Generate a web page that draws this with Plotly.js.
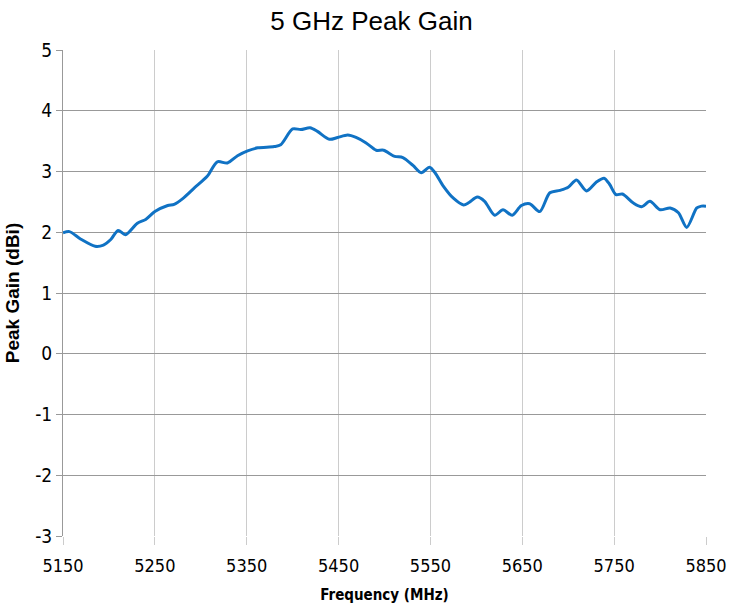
<!DOCTYPE html>
<html>
<head>
<meta charset="utf-8">
<script src="https://cdn.plot.ly/plotly-3.0.1.min.js"></script>
<style>html,body{margin:0;padding:0;background:#fff;}#chart{width:743px;height:610px;}</style>
</head>
<body>
<div id="chart"></div>
<script>
const freqMHz = [5150,5157,5169,5185,5194,5202,5210,5218,5231,5240,5250,5264,5271,5280,5293,5307,5318,5329,5340,5351,5362,5380,5387,5400,5409,5419,5427,5440,5449,5460,5469,5480,5491,5499,5511,5520,5531,5540,5549,5555,5564,5575,5586,5592,5601,5609,5620,5629,5639,5649,5658,5669,5680,5691,5700,5709,5720,5731,5739,5745,5752,5759,5771,5780,5789,5800,5811,5820,5829,5840,5845,5850];
const gainDBi = [1.99,2.01,1.89,1.77,1.79,1.88,2.03,1.96,2.15,2.21,2.34,2.44,2.46,2.55,2.73,2.92,3.16,3.14,3.26,3.34,3.39,3.41,3.44,3.70,3.69,3.72,3.66,3.53,3.56,3.60,3.56,3.47,3.35,3.35,3.25,3.23,3.10,2.98,3.07,2.98,2.76,2.56,2.45,2.49,2.58,2.51,2.28,2.37,2.28,2.44,2.47,2.34,2.65,2.69,2.74,2.86,2.68,2.83,2.89,2.79,2.62,2.63,2.48,2.42,2.51,2.37,2.40,2.32,2.08,2.40,2.43,2.43];
const xTicks = [5150,5250,5350,5450,5550,5650,5750,5850];
const yTicks = [-3,-2,-1,0,1,2,3,4,5];

const narrow = '"DejaVu Sans Condensed", "Liberation Sans Narrow", "Arial Narrow", sans-serif';
Plotly.newPlot('chart', [{
  x: freqMHz, y: gainDBi, type: 'scatter', mode: 'lines',
  line: {color: '#1072C4', width: 3, shape: 'spline', smoothing: 0.8},
  hoverinfo: 'skip'
}], {
  width: 743, height: 610,
  margin: {l: 63, r: 37, t: 50, b: 74},
  paper_bgcolor: '#fff', plot_bgcolor: '#fff',
  showlegend: false,
  title: {text: '5 GHz Peak Gain', x: 0.5, xanchor: 'center', y: 0.965, yanchor: 'middle',
          font: {family: '"Liberation Sans", Arial, sans-serif', size: 26, color: '#000'}},
  xaxis: {
    range: [5150, 5850], tickvals: xTicks, ticktext: xTicks.map(String),
    showgrid: true, gridcolor: '#cccccc', gridwidth: 1,
    showline: false, zeroline: false,
    ticks: 'outside', ticklen: 8, tickcolor: '#cccccc',
    ticklabelstandoff: 5,
    tickfont: {family: narrow, size: 18, color: '#000'},
    title: {text: '<b>Frequency (MHz)</b>', standoff: 14, font: {family: narrow, size: 15, color: '#000'}}
  },
  yaxis: {
    range: [-3, 5], tickvals: yTicks, ticktext: yTicks.map(String),
    showgrid: true, gridcolor: '#999999', gridwidth: 1,
    showline: true, linecolor: '#999999', linewidth: 1,
    zeroline: false,
    ticks: 'outside', ticklen: 6, tickcolor: '#999999',
    tickfont: {family: narrow, size: 19, color: '#000'},
    title: {text: '<b>Peak Gain (dBi)</b>', standoff: 10, font: {family: '"Liberation Sans", Arial, sans-serif', size: 19, color: '#000'}}
  }
}, {displayModeBar: false, staticPlot: true});
</script>
</body>
</html>
